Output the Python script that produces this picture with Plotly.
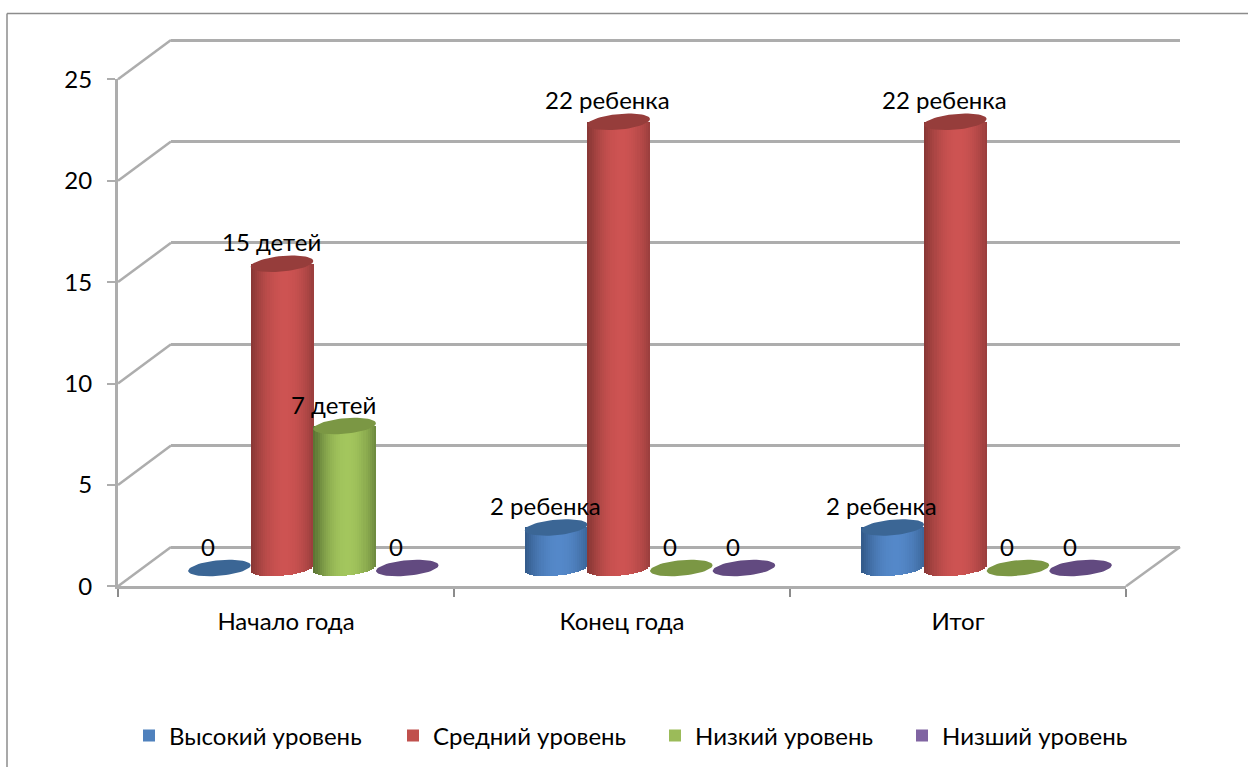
import math
import plotly.graph_objects as go

categories = ["Начало года", "Конец года", "Итог"]
series_names = ["Высокий уровень", "Средний уровень", "Низкий уровень", "Низший уровень"]
high = [0, 2, 2]
mid = [15, 22, 22]
low = [7, 0, 0]
lowest = [0, 0, 0]
high_labels = ["0", "2 ребенка", "2 ребенка"]
mid_labels = ["15 детей", "22 ребенка", "22 ребенка"]
low_labels = ["7 детей", "0", "0"]
lowest_labels = ["0", "0", "0"]
y_ticks = [0, 5, 10, 15, 20, 25]

series = [high, mid, low, lowest]
labels = [high_labels, mid_labels, low_labels, lowest_labels]
legend_colors = ["#4f81bd", "#c0504d", "#9bbb59", "#8064a2"]
centre_colors = [(84, 136, 201), (205, 83, 82), (163, 198, 93), (128, 100, 162)]
edge_colors = [(52, 92, 140), (138, 56, 54), (92, 118, 52), (90, 70, 115)]
cap_colors = ["#3b6695", "#963d3b", "#7b9744", "#624a80"]
legend_left = [129, 393, 655, 902]

W, H = 1248, 767
GREY = "#adadad"
FONT = "Lato"
FS = 24


def fx(p):
    return p / W


def fy(p):
    return 1 - p / H


UNIT = 101.4 / 5  # pixels per value unit
FRONT_ZERO = 586.3
BAR_ZERO = 568
BAR_W = 0.186
ELL_B = 7.8 / UNIT
ELL_T = 2.8 / UNIT
SLICES = 30

fig = go.Figure()

fig.add_trace(go.Scatter(x=[0], y=[0], xaxis="x2", yaxis="y2", mode="none", showlegend=False, hoverinfo="skip"))
fig.add_trace(go.Scatter(x=categories, y=[0, 0, 0], xaxis="x", yaxis="y", mode="none", showlegend=False, hoverinfo="skip"))

legend_ids = ["legend", "legend2", "legend3", "legend4"]
for s, vals in enumerate(series):
    fig.add_trace(go.Bar(
        x=[0, 1, 2], y=vals, xaxis="x3", yaxis="y3", name=series_names[s], legend=legend_ids[s], showlegend=True,
        offset=(s - 2 + 0.3) * BAR_W, width=BAR_W * 0.4,
        marker=dict(color=legend_colors[s], line=dict(width=0)), hoverinfo="skip",
    ))

for s, vals in enumerate(series):
    for i in range(SLICES):
        f = (i + 0.5) / SLICES
        u = 2 * f - 1
        k = min(1.0, abs(f - 0.54) / 0.52) ** 2.0
        col = tuple(round(c + (e - c) * k) for c, e in zip(centre_colors[s], edge_colors[s]))
        bottom = -ELL_B * math.sqrt(max(0, 1 - u * u)) + ELL_T * u
        fig.add_trace(go.Bar(
            x=[0, 1, 2],
            y=[(v - bottom) if v > 0 else None for v in vals],
            base=[bottom] * 3,
            xaxis="x3", yaxis="y3", showlegend=False, hoverinfo="skip",
            offset=(s - 2 + f - 0.5 / SLICES) * BAR_W, width=BAR_W / SLICES * 1.15,
            marker=dict(color="rgb(%d,%d,%d)" % col, line=dict(width=0)),
        ))

for s, vals in enumerate(series):
    xs, ys = [], []
    for c, v in enumerate(vals):
        cx = c + (s - 1.5) * BAR_W
        for j in range(61):
            t = 2 * math.pi * j / 60
            xs.append(cx + BAR_W / 2 * math.cos(t))
            ys.append(v + ELL_B * math.sin(t) + ELL_T * math.cos(t))
        xs.append(None)
        ys.append(None)
    fig.add_trace(go.Scatter(
        x=xs, y=ys, xaxis="x3", yaxis="y3", mode="lines", fill="toself",
        fillcolor=cap_colors[s], line=dict(width=0), showlegend=False, hoverinfo="skip",
    ))

annotations = []
for s, vals in enumerate(series):
    for c, v in enumerate(vals):
        annotations.append(dict(
            x=c + (s - 1.5) * BAR_W, y=v, xref="x3", yref="y3", text=labels[s][c],
            showarrow=False, xshift=-11, yshift=22, yanchor="middle",
            font=dict(family=FONT, size=FS, color="#000000"),
        ))

shapes = []
shapes.append(dict(type="line", xref="paper", yref="paper", x0=fx(7), x1=fx(7), y0=fy(13.5), y1=0,
                   line=dict(color="#8c8c8c", width=1.5)))
shapes.append(dict(type="line", xref="paper", yref="paper", x0=fx(7), x1=1, y0=fy(13.5), y1=fy(13.5),
                   line=dict(color="#8c8c8c", width=1.5)))
for t in y_ticks:
    py = FRONT_ZERO - t * UNIT
    shapes.append(dict(type="line", xref="paper", yref="paper", x0=fx(118), x1=fx(171), y0=fy(py), y1=fy(py - 39.3),
                       line=dict(color=GREY, width=2.5)))
shapes.append(dict(type="line", xref="paper", yref="paper", x0=fx(1126), x1=fx(1180),
                   y0=fy(FRONT_ZERO), y1=fy(FRONT_ZERO - 39.3), line=dict(color=GREY, width=2.5)))

legends = {}
for s, lid in enumerate(legend_ids):
    legends[lid] = dict(orientation="h", x=fx(legend_left[s]), xanchor="left", y=fy(736), yanchor="middle",
                        font=dict(family=FONT, size=FS), bgcolor="rgba(0,0,0,0)",
                        itemclick=False, itemdoubleclick=False)

fig.update_layout(
    width=W, height=H,
    margin=dict(l=0, r=0, t=0, b=0, autoexpand=False),
    paper_bgcolor="#ffffff", plot_bgcolor="rgba(0,0,0,0)",
    barmode="overlay", bargap=0,
    font=dict(family=FONT, size=FS, color="#000000"),
    shapes=shapes, annotations=annotations,
    xaxis=dict(domain=[fx(118), fx(1126)], type="category", categoryorder="array", categoryarray=categories,
               range=[-0.5, 2.5], tickson="boundaries", ticks="outside", ticklen=8, tickwidth=1.5, tickcolor="#8c8c8c",
               showline=True, linecolor=GREY, linewidth=3, showgrid=False, zeroline=False, anchor="y",
               ticklabelstandoff=12, tickfont=dict(family=FONT, size=FS, color="#000000"), fixedrange=True),
    yaxis=dict(domain=[fy(FRONT_ZERO), fy(FRONT_ZERO - 25 * UNIT)], range=[0, 25], tickvals=y_ticks, ticks="outside",
               ticklen=8, tickwidth=2,
               tickcolor=GREY, showline=True, linecolor=GREY, linewidth=3, showgrid=False, zeroline=False, anchor="x",
               ticklabelstandoff=10, tickfont=dict(family=FONT, size=FS, color="#000000"), fixedrange=True),
    xaxis2=dict(domain=[fx(171), fx(1180)], range=[0, 1], visible=False, anchor="y2", fixedrange=True),
    yaxis2=dict(domain=[fy(547 + UNIT), fy(547 - 26 * UNIT)], range=[-1, 26], tickvals=y_ticks, showticklabels=False,
                ticks="", showgrid=True, gridcolor=GREY, gridwidth=3, zeroline=False,
                showline=False, anchor="x2", fixedrange=True),
    xaxis3=dict(domain=[fx(145), fx(1155)], range=[-0.5, 2.5], visible=False, anchor="y3", fixedrange=True),
    yaxis3=dict(domain=[fy(BAR_ZERO + UNIT), fy(BAR_ZERO - 25 * UNIT)], range=[-1, 25], visible=False, anchor="x3", fixedrange=True),
    **legends,
)

fig.write_html("out.html", post_script="document.body.style.margin='0';", config={"displayModeBar": False})
